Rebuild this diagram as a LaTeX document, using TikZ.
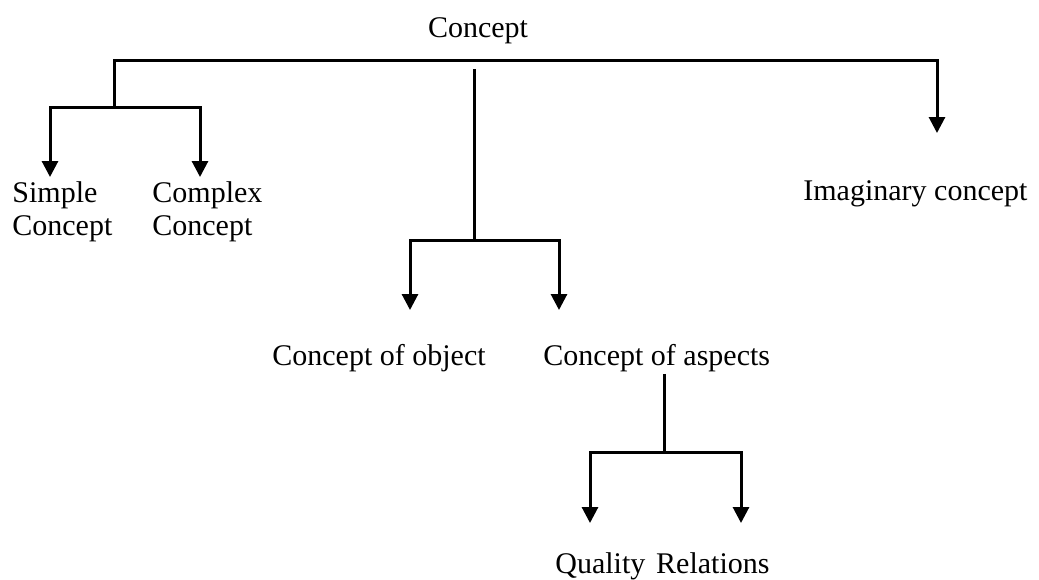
\documentclass[tikz,border=0pt]{standalone}
\usepackage{fontspec}
\setmainfont{Liberation Serif}
\usetikzlibrary{arrows.meta, positioning}
\tikzset{
    term/.style={inner sep=0pt, font=\fontsize{15}{16.5}\selectfont, align=left},
    branch/.style={line width=1.5pt},
    fork/.style={line width=1.5pt, {Triangle[width=8pt, length=8pt]}-{Triangle[width=8pt, length=8pt]}},
}

\begin{document}
\begin{tikzpicture}[x=0.5pt, y=-0.5pt]
    \tikzset{
      pointer/.style={line width=1.5pt, -{Triangle[width=8pt, length=8pt]}},
      node distance=1cm
    }
    \useasboundingbox (0,0) rectangle (1039,579);

    \node[term, anchor=base] (concept) at (478,37) {Concept};

    \node[term, anchor=north west] (simple) at (12,181) {Simple\\Concept};
    \node[term, anchor=north west] (complex) at (152,181) {Complex\\Concept};
    \node[term, anchor=base west] (imaginary) at (803,200) {Imaginary concept};

    \node[term, anchor=base west] (object) at (272,365) {Concept of object};
    \node[term, base right=28.5pt of object] (aspects) {Concept of aspects};

    \node[term, anchor=base west] (quality) at (555,573) {Quality};
    \node[term, base right=5pt of quality] (relations) {Relations};

    \coordinate (leftBar) at (114,107);
    \coordinate (rootR) at (937,60);
    \coordinate (midTop) at (474,69);
    \coordinate (midBar) at (474,240);
    \coordinate (aspBar) at (664,452);

    \coordinate (simpleTip) at (50,177);
    \coordinate (complexTip) at (200,177);
    \coordinate (imagTip) at (937,133);
    \coordinate (objectTip) at (410,310);
    \coordinate (aspectsTip) at (559,310);
    \coordinate (qualityTip) at (590,523);
    \coordinate (relationsTip) at (741,523);

    \draw[pointer] (leftBar) |- (rootR) -- (imagTip);
    \draw[fork] (simpleTip) |- (complexTip |- leftBar) -- (complexTip);

    \draw[branch] (midTop) -- (midBar);
    \draw[fork] (objectTip) |- (aspectsTip |- midBar) -- (aspectsTip);

    \draw[branch] ([yshift=-1pt]aspects.south -| aspBar) -- (aspBar);
    \draw[fork] (qualityTip) |- (relationsTip |- aspBar) -- (relationsTip);
\end{tikzpicture}
\end{document}
